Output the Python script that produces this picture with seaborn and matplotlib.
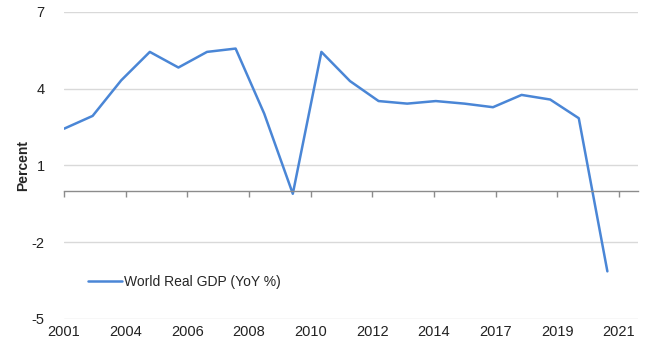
import matplotlib
matplotlib.use("Agg")
import matplotlib.pyplot as plt
import numpy as np
import pandas as pd
import seaborn as sns

years = list(range(2001, 2021))
gdp = [2.43, 2.93, 4.32, 5.43, 4.82, 5.43, 5.56, 3.02, -0.11, 5.43,
       4.29, 3.51, 3.41, 3.51, 3.41, 3.27, 3.75, 3.57, 2.84, -3.14]
tick_labels = ["2001", "2004", "2006", "2008", "2010", "2012", "2014", "2017", "2019", "2021"]
y_ticks = [-5, -2, 1, 4, 7]
series_name = "World Real GDP (YoY %)"

df = pd.DataFrame({"year": years, "value": gdp})

sns.set_theme(style="white")
plt.rcParams["font.family"] = ["Liberation Sans", "DejaVu Sans"]

fig = plt.figure(figsize=(6.5, 3.51), dpi=100)
ax = fig.add_axes([0.0985, 0.0912, 0.883, 0.8755])

sns.lineplot(data=df, x="year", y="value", ax=ax, color="#4a86d6",
             linewidth=1.8, label=series_name)

ax.set_ylim(-5, 7)
ax.set_xlim(2001, 2021.07)
ax.set_yticks(y_ticks)
ax.set_yticklabels([str(v) for v in y_ticks], fontsize=10.5, color="#222222")
ax.grid(axis="y", color="#d9d9d9", linewidth=1)
ax.grid(axis="x", visible=False)
for s in ["top", "right", "left"]:
    ax.spines[s].set_visible(False)
ax.spines["bottom"].set_position(("data", 0))
ax.spines["bottom"].set_color("#8c8c8c")
ax.spines["bottom"].set_linewidth(1)

xt = np.linspace(2001, 2020.4, len(tick_labels))
ax.set_xticks(xt)
ax.tick_params(axis="x", direction="out", length=4, width=1, color="#8c8c8c",
               labelbottom=False, bottom=True)
ax.tick_params(axis="y", length=0, pad=14)

sec = ax.secondary_xaxis(0.0)
sec.set_xticks(xt)
sec.set_xticklabels(tick_labels, fontsize=10.5, color="#222222")
sec.tick_params(length=0, pad=4)
sec.spines["bottom"].set_visible(False)

ax.set_xlabel("")
ax.set_ylabel("Percent", fontsize=10, fontweight="bold", labelpad=1)

ax.legend(loc="center left", bbox_to_anchor=(0.03, 0.12), frameon=False,
          fontsize=10, handlelength=2.4, handletextpad=0.2, borderpad=0)

fig.savefig("out.png", dpi=100)
